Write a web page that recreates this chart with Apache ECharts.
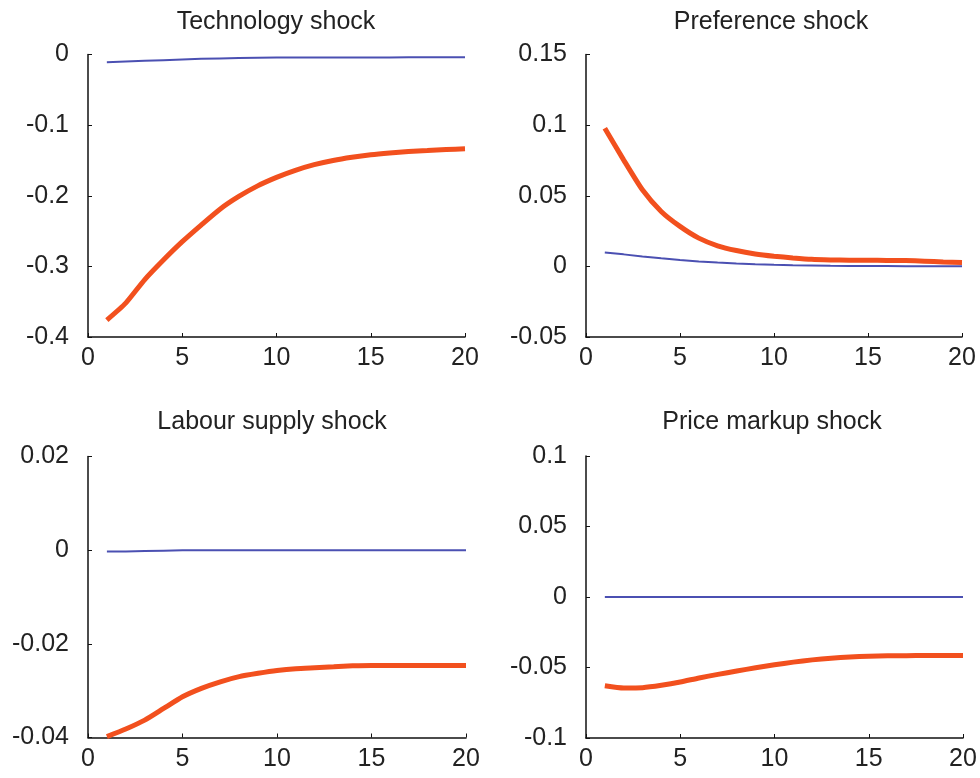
<!DOCTYPE html>
<html>
<head>
<meta charset="utf-8">
<title>Impulse responses</title>
<script src="https://cdn.jsdelivr.net/npm/echarts@6/dist/echarts.min.js"></script>
<style>
  html, body { margin: 0; padding: 0; background: #fff; }
  #chart { width: 980px; height: 778px; }
</style>
</head>
<body>
<div id="chart"></div>
<script>
// horizon 1..20
var periods = [1, 2, 3, 4, 5, 6, 7, 8, 9, 10, 11, 12, 13, 14, 15, 16, 17, 18, 19, 20];

var titles = ['Technology shock', 'Preference shock', 'Labour supply shock', 'Price markup shock'];

// thick red line
var techRed = [-0.376, -0.352, -0.319, -0.291, -0.265, -0.2415, -0.219, -0.201, -0.186, -0.174,
  -0.164, -0.156, -0.150, -0.1455, -0.142, -0.1395, -0.1375, -0.136, -0.1345, -0.1335];
var prefRed = [0.0978, 0.0754, 0.0542, 0.0389, 0.0283, 0.0200, 0.0146, 0.0112, 0.0088, 0.0072,
  0.0060, 0.0050, 0.0046, 0.0044, 0.0043, 0.0042, 0.0041, 0.0037, 0.0031, 0.0028];
var labourRed = [-0.0398, -0.0382, -0.0363, -0.0338, -0.0313, -0.0295, -0.0281, -0.0270, -0.0263, -0.0257,
  -0.0253, -0.0251, -0.0249, -0.0247, -0.0246, -0.0246, -0.0246, -0.0246, -0.0246, -0.0246];
var markupRed = [-0.0629, -0.0645, -0.0643, -0.0626, -0.0603, -0.0574, -0.0549, -0.0525, -0.0502, -0.0481,
  -0.0462, -0.0446, -0.0434, -0.0426, -0.0420, -0.0417, -0.0416, -0.0415, -0.0415, -0.0415];

// thin blue line
var techBlue = [-0.011, -0.010, -0.009, -0.008, -0.007, -0.006, -0.0055, -0.005, -0.0046, -0.0044,
  -0.0043, -0.0042, -0.0042, -0.0041, -0.0041, -0.0041, -0.004, -0.004, -0.004, -0.004];
var prefBlue = [0.0098, 0.0085, 0.0070, 0.0057, 0.0045, 0.0035, 0.0027, 0.0020, 0.0015, 0.0011,
  0.0008, 0.0006, 0.0004, 0.0003, 0.0002, 0.0002, 0.0001, 0.0001, 0.0001, 0.0001];
var labourBlue = [-0.0003, -0.0003, -0.0002, -0.0001, 0, 0, 0, 0, 0, 0,
  0, 0, 0, 0, 0, 0, 0, 0, 0, 0];
var markupBlue = [0, 0, 0, 0, 0, 0, 0, 0, 0, 0,
  0, 0, 0, 0, 0, 0, 0, 0, 0, 0];

// y axis ranges per panel: [min, max, interval]
var yRanges = [[-0.4, 0, 0.1], [-0.05, 0.15, 0.05], [-0.04, 0.02, 0.02], [-0.1, 0.1, 0.05]];
var redSeries = [techRed, prefRed, labourRed, markupRed];
var blueSeries = [techBlue, prefBlue, labourBlue, markupBlue];

// panel boxes
var grids = [
  { left: 88, top: 54.5, width: 377, height: 282.5 },
  { left: 586, top: 54.5, width: 376, height: 282.5 },
  { left: 88, top: 456.5, width: 378, height: 281 },
  { left: 586, top: 456, width: 377, height: 282 }
];
var titleX = [276, 771, 272, 772];
var titleY = [10, 10, 410, 410];

var font = 'Liberation Sans, Arial, sans-serif';
var red = '#f2501e';
var blue = '#4b50b2';

var option = {
  backgroundColor: '#fff',
  animation: false,
  title: [],
  grid: [],
  xAxis: [],
  yAxis: [],
  series: []
};

function fmt(v) {
  return String(parseFloat(v.toFixed(4)));
}

for (var i = 0; i < 4; i++) {
  option.title.push({
    text: titles[i],
    left: titleX[i],
    top: titleY[i],
    textAlign: 'center',
    padding: 0,
    textStyle: { fontFamily: font, fontSize: 25, fontWeight: 'normal', color: '#222' }
  });
  option.grid.push(grids[i]);
  option.xAxis.push({
    type: 'value',
    gridIndex: i,
    min: 0,
    max: 20,
    interval: 5,
    axisLine: { onZero: false, lineStyle: { color: '#111', width: 1.5 } },
    axisTick: { inside: true, length: 4, lineStyle: { color: '#111' } },
    axisLabel: { margin: 9, color: '#222', fontFamily: font, fontSize: 25 },
    splitLine: { show: false }
  });
  option.yAxis.push({
    type: 'value',
    gridIndex: i,
    min: yRanges[i][0],
    max: yRanges[i][1],
    interval: yRanges[i][2],
    axisLine: { show: true, onZero: false, lineStyle: { color: '#111', width: 1.5 } },
    axisTick: { show: true, inside: true, length: 4, lineStyle: { color: '#111' } },
    axisLabel: { margin: 19, color: '#222', fontFamily: font, fontSize: 25, formatter: fmt },
    splitLine: { show: false }
  });
  option.series.push({
    type: 'line',
    xAxisIndex: i,
    yAxisIndex: i,
    data: periods.map(function (p, k) { return [p, blueSeries[i][k]]; }),
    showSymbol: false,
    lineStyle: { color: blue, width: 2 },
    z: 2
  });
  option.series.push({
    type: 'line',
    xAxisIndex: i,
    yAxisIndex: i,
    data: periods.map(function (p, k) { return [p, redSeries[i][k]]; }),
    showSymbol: false,
    smooth: 0.2,
    lineStyle: { color: red, width: 5 },
    z: 3
  });
}

var chart = echarts.init(document.getElementById('chart'));
chart.setOption(option);
</script>
</body>
</html>
